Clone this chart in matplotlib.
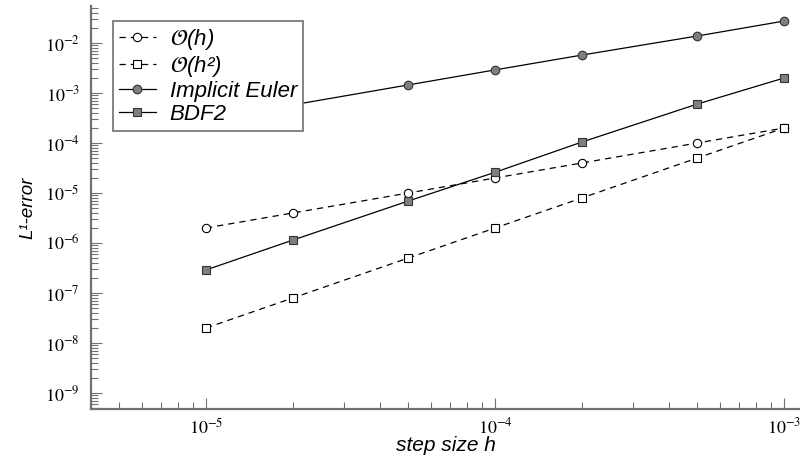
import matplotlib
matplotlib.use("Agg")
from matplotlib import pyplot as plt
from matplotlib.ticker import LogLocator, NullFormatter
import numpy as np

# step sizes and errors
h = [1e-5, 2e-5, 5e-5, 1e-4, 2e-4, 5e-4, 1e-3]
order1 = [2e-6, 4e-6, 1e-5, 2e-5, 4e-5, 1e-4, 2e-4]
order2 = [2e-8, 8e-8, 5e-7, 2e-6, 8e-6, 5e-5, 2e-4]
implicit_euler = [2.9e-4, 5.8e-4, 1.45e-3, 2.9e-3, 5.75e-3, 1.38e-2, 2.75e-2]
bdf2 = [2.9e-7, 1.15e-6, 6.9e-6, 2.6e-5, 1.05e-4, 6.0e-4, 2.0e-3]

plt.rcParams['mathtext.fontset'] = 'stix'
SANS = ['Liberation Sans', 'DejaVu Sans']
SERIF = ['STIXGeneral', 'Liberation Serif']
GRAY = '#707070'
FILL = '#7f7f7f'

fig = plt.figure(figsize=(8, 4.55), dpi=100)
ax = fig.add_axes([91 / 800, 46 / 455, 709 / 800, 403 / 455])

ax.plot(h, order1, ls=(0, (5, 4)), color='black', lw=0.9, marker='o', ms=6,
        mfc='white', mec='black', mew=0.8, label=r'$\mathcal{O}$(h)')
ax.plot(h, order2, ls=(0, (5, 4)), color='black', lw=0.9, marker='s', ms=6,
        mfc='white', mec='black', mew=0.8, label=r'$\mathcal{O}$(h²)')
ax.plot(h, implicit_euler, ls='-', color='black', lw=0.9, marker='o', ms=6.2,
        mfc=FILL, mec='#333333', mew=0.8, label='Implicit Euler')
ax.plot(h, bdf2, ls='-', color='black', lw=0.9, marker='s', ms=6.2,
        mfc=FILL, mec='#333333', mew=0.8, label='BDF2')

ax.set_xscale('log')
ax.set_yscale('log')
ax.set_xlim(4e-6, 1.135e-3)
ax.set_ylim(4.8e-10, 5.5e-2)

ax.xaxis.set_major_locator(LogLocator(base=10, numticks=20))
ax.xaxis.set_minor_locator(LogLocator(base=10, subs=np.arange(2, 10), numticks=20))
ax.yaxis.set_major_locator(LogLocator(base=10, numticks=20))
ax.yaxis.set_minor_locator(LogLocator(base=10, subs=np.arange(2, 10), numticks=20))
ax.xaxis.set_minor_formatter(NullFormatter())
ax.yaxis.set_minor_formatter(NullFormatter())

for side in ['top', 'right']:
    ax.spines[side].set_visible(False)
for side in ['left', 'bottom']:
    ax.spines[side].set_color(GRAY)
    ax.spines[side].set_linewidth(1.6)

ax.tick_params(which='both', direction='in', color=GRAY, width=0.8)
ax.tick_params(which='major', length=8, labelsize=13)
ax.tick_params(axis='x', which='major', pad=6)
ax.tick_params(axis='y', which='major', pad=8)
ax.tick_params(which='minor', length=5)
for lbl in ax.get_xticklabels() + ax.get_yticklabels():
    lbl.set_family(SERIF)

ax.set_xlabel('step size h', fontsize=15, style='italic', family=SANS, labelpad=-1)
ax.set_ylabel('L¹-error', fontsize=13.5, style='italic', family=SANS, labelpad=6)

leg = ax.legend(loc='upper left', bbox_to_anchor=(22 / 709, 1 - 15 / 403),
                prop={'family': SANS, 'style': 'italic', 'size': 16},
                frameon=True, fancybox=False, framealpha=1, edgecolor=GRAY,
                handlelength=1.7, handletextpad=0.6, labelspacing=0.1,
                borderpad=0.25, borderaxespad=0)
leg.get_frame().set_linewidth(1.2)

fig.savefig('out.png', dpi=100)
